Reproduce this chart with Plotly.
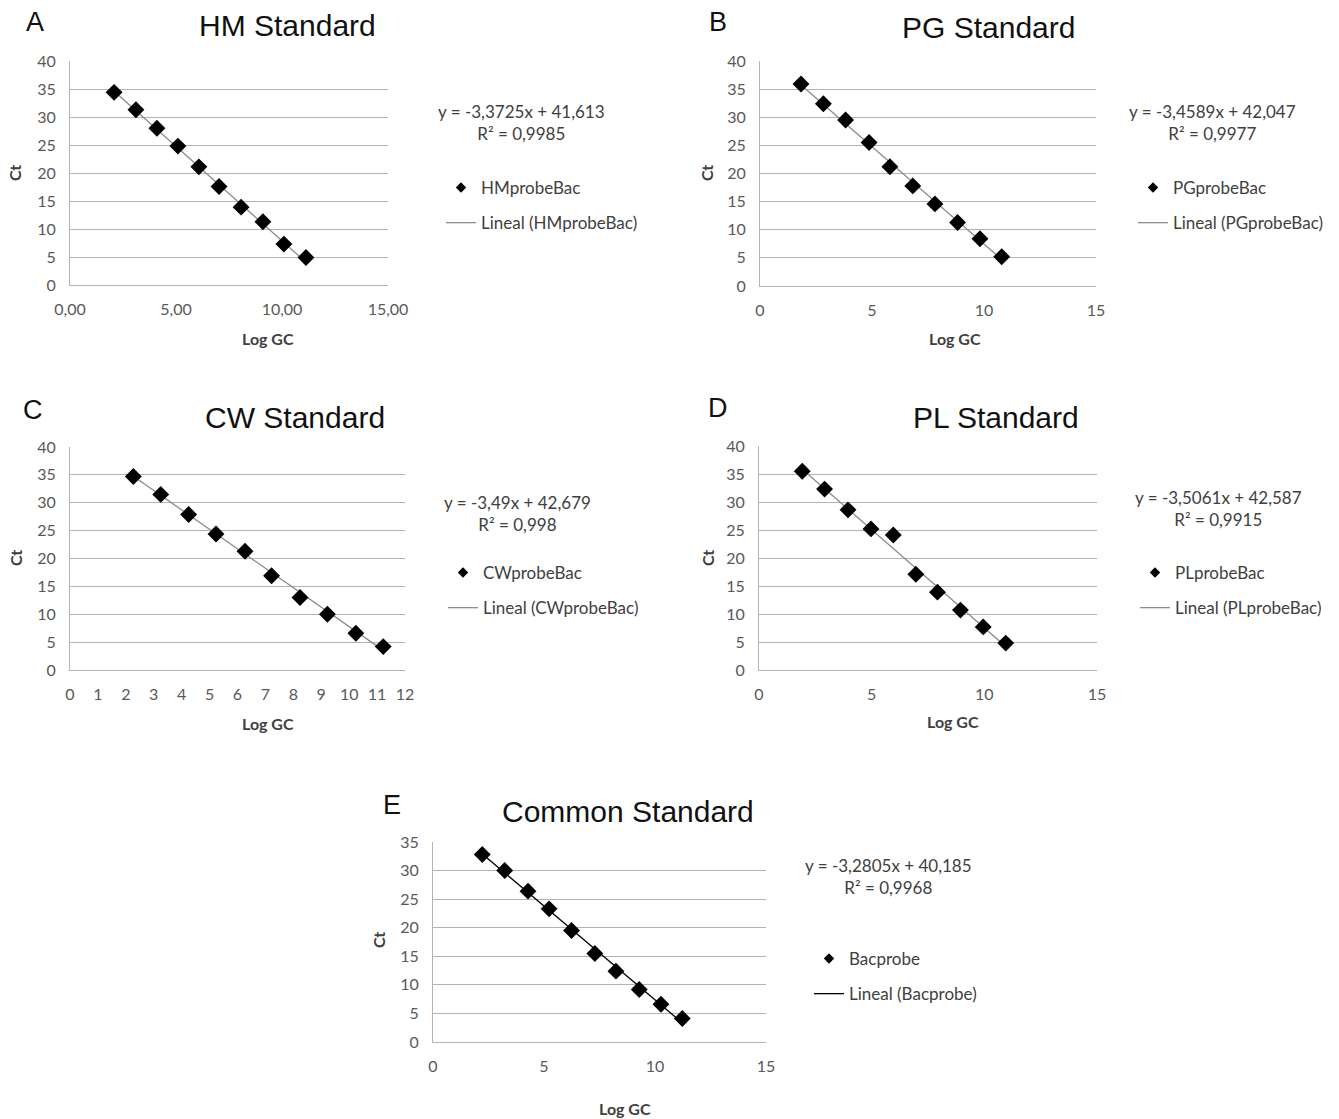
import plotly.graph_objects as go

W, H = 1339, 1119

# ---------------- data ----------------
hm_x = [2.08, 3.11, 4.10, 5.09, 6.08, 7.03, 8.07, 9.10, 10.09, 11.13]
hm_y = [34.4, 31.3, 28.0, 24.8, 21.1, 17.6, 13.9, 11.3, 7.3, 4.9]
hm_slope, hm_int = -3.3725, 41.613

pg_x = [1.83, 2.83, 3.82, 4.87, 5.80, 6.82, 7.81, 8.82, 9.82, 10.79]
pg_y = [35.9, 32.4, 29.5, 25.5, 21.2, 17.8, 14.6, 11.3, 8.4, 5.2]
pg_slope, pg_int = -3.4589, 42.047

cw_x = [2.27, 3.25, 4.25, 5.23, 6.27, 7.22, 8.24, 9.22, 10.24, 11.22]
cw_y = [34.7, 31.5, 27.9, 24.4, 21.3, 16.9, 13.0, 10.0, 6.6, 4.2]
cw_slope, cw_int = -3.49, 42.679

pl_x = [1.92, 2.91, 3.95, 4.97, 5.96, 6.96, 7.92, 8.94, 9.95, 10.95]
pl_y = [35.5, 32.3, 28.6, 25.2, 24.1, 17.1, 13.9, 10.7, 7.7, 4.8]
pl_slope, pl_int = -3.5061, 42.587

bac_x = [2.22, 3.23, 4.28, 5.23, 6.24, 7.29, 8.24, 9.29, 10.27, 11.23]
bac_y = [32.8, 30.0, 26.4, 23.3, 19.5, 15.5, 12.4, 9.2, 6.6, 4.1]
bac_slope, bac_int = -3.2805, 40.185

titles = ["HM Standard", "PG Standard", "CW Standard", "PL Standard", "Common Standard"]
letters = ["A", "B", "C", "D", "E"]
series_names = ["HMprobeBac", "PGprobeBac", "CWprobeBac", "PLprobeBac", "Bacprobe"]
eq_texts = ["y = -3,3725x + 41,613", "y = -3,4589x + 42,047", "y = -3,49x + 42,679",
            "y = -3,5061x + 42,587", "y = -3,2805x + 40,185"]
r2_texts = ["R² = 0,9985", "R² = 0,9977", "R² = 0,998", "R² = 0,9915", "R² = 0,9968"]

xs = [hm_x, pg_x, cw_x, pl_x, bac_x]
ys = [hm_y, pg_y, cw_y, pl_y, bac_y]
slopes = [hm_slope, pg_slope, cw_slope, pl_slope, bac_slope]
intercepts = [hm_int, pg_int, cw_int, pl_int, bac_int]

# ---------------- layout geometry (pixels) ----------------
panels = [
    dict(dom=(70, 388, 61, 285), title=(287, 26), letter=(35, 22), ct=(15, 173), lg=(268, 338),
         eq=(521, 122), leg=(441, 170), xr=[0, 15], xt=[0, 5, 10, 15], xfmt=".2f", yr=[0, 40], tc="#8c8c8c"),
    dict(dom=(760, 1096, 61, 286), title=(988, 27), letter=(718, 22), ct=(707, 173), lg=(955, 338),
         eq=(1212, 122), leg=(1133, 170), xr=[0, 15], xt=[0, 5, 10, 15], xfmt="", yr=[0, 40], tc="#8c8c8c"),
    dict(dom=(70, 405, 447, 670), title=(295, 417), letter=(33, 410), ct=(15, 558), lg=(268, 723),
         eq=(517, 513), leg=(443, 555), xr=[0, 12], xt=list(range(13)), xfmt="", yr=[0, 40], tc="#8c8c8c"),
    dict(dom=(759, 1097, 446, 670), title=(996, 417), letter=(718, 408), ct=(707, 558), lg=(953, 722),
         eq=(1218, 509), leg=(1135, 555), xr=[0, 15], xt=[0, 5, 10, 15], xfmt="", yr=[0, 40], tc="#8c8c8c"),
    dict(dom=(433, 766, 842, 1042), title=(628, 811), letter=(392, 805), ct=(378, 940), lg=(625, 1108),
         eq=(888, 876), leg=(809, 941), xr=[0, 15], xt=[0, 5, 10, 15], xfmt="", yr=[0, 35], tc="#000000"),
]

TICK_FONT = dict(family="Lato", size=16, color="#595959")
TEXT_FONT = dict(family="Lato", size=17, color="#404040")
GRID = "#b3b3b3"

fig = go.Figure()
annotations = []

for i, p in enumerate(panels):
    n = "" if i == 0 else str(i + 1)
    xa, ya = "x" + n, "y" + n
    x0, x1, y0, y1 = p["dom"]
    legname = "legend" + n

    tx = [min(xs[i]), max(xs[i])]
    ty = [slopes[i] * v + intercepts[i] for v in tx]
    # trend line
    fig.add_trace(go.Scatter(
        x=tx, y=ty, mode="lines", name="Lineal (" + series_names[i] + ")",
        line=dict(color=p["tc"], width=1.3),
        xaxis=xa, yaxis=ya, legend=legname, legendgroup="l" + n, legendrank=2,
        showlegend=True, hoverinfo="skip"))
    # data points
    fig.add_trace(go.Scatter(
        x=xs[i], y=ys[i], mode="markers", name=series_names[i],
        marker=dict(symbol="diamond", size=13, color="#000000"),
        xaxis=xa, yaxis=ya, showlegend=False))
    # legend entry for the points (smaller symbol, as in the reference)
    fig.add_trace(go.Scatter(
        x=[None], y=[None], mode="markers", name=series_names[i],
        marker=dict(symbol="diamond", size=8, color="#000000"),
        xaxis=xa, yaxis=ya, legend=legname, legendgroup="m" + n, legendrank=1,
        showlegend=True))

    fig.layout["xaxis" + n] = dict(
        domain=[x0 / W, x1 / W], anchor=ya, range=p["xr"], tickvals=p["xt"],
        tickformat=p["xfmt"], showgrid=False, zeroline=False, showline=True,
        linecolor=GRID, linewidth=1, ticks="", tickfont=TICK_FONT, ticklabelstandoff=10,
        automargin=False, fixedrange=True)
    fig.layout["yaxis" + n] = dict(
        domain=[1 - y1 / H, 1 - y0 / H], anchor=xa, range=p["yr"], dtick=5,
        showgrid=True, gridcolor=GRID, gridwidth=1, zeroline=False, showline=True,
        linecolor=GRID, linewidth=1, ticks="", tickfont=TICK_FONT, ticklabelstandoff=10,
        automargin=False, fixedrange=True)
    fig.layout[legname] = dict(
        x=p["leg"][0] / W, y=1 - p["leg"][1] / H, xanchor="left", yanchor="top",
        bgcolor="rgba(0,0,0,0)", borderwidth=0, font=TEXT_FONT,
        tracegroupgap=10, traceorder="grouped", itemwidth=30)

    annotations += [
        dict(x=p["title"][0] / W, y=1 - p["title"][1] / H, text=titles[i],
             font=dict(family="Liberation Sans", size=30, color="#111111")),
        dict(x=p["letter"][0] / W, y=1 - p["letter"][1] / H, text=letters[i],
             font=dict(family="Liberation Sans", size=27, color="#111111")),
        dict(x=p["ct"][0] / W, y=1 - p["ct"][1] / H, text="<b>Ct</b>", textangle=-90,
             font=dict(family="Lato", size=16, color="#404040")),
        dict(x=p["lg"][0] / W, y=1 - p["lg"][1] / H, text="<b>Log GC</b>",
             font=dict(family="Lato", size=16, color="#404040")),
        dict(x=p["eq"][0] / W, y=1 - p["eq"][1] / H,
             text=eq_texts[i] + "<br>" + r2_texts[i], align="center",
             font=dict(family="Lato", size=17, color="#404040")),
    ]

for a in annotations:
    a.update(xref="paper", yref="paper", showarrow=False, xanchor="center", yanchor="middle")

fig.update_layout(
    width=W, height=H, margin=dict(l=0, r=0, t=0, b=0, autoexpand=False),
    paper_bgcolor="white", plot_bgcolor="white",
    separators=",.", annotations=annotations, showlegend=True,
)

fig.write_html("out.html", config={"displayModeBar": False})
